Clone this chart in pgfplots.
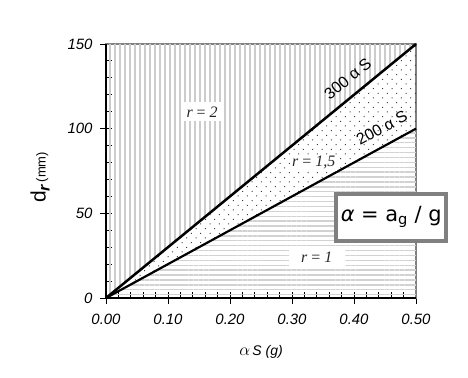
\documentclass[border=0pt]{standalone}
\usepackage{pgfplots}
\pgfplotsset{compat=1.18}
\usepackage{fontspec}
\setmainfont{Liberation Sans}
\newfontfamily\serifit{Liberation Serif}
\newfontfamily\verd{DejaVu Sans}
\usetikzlibrary{patterns.meta}
\begin{document}
\begin{tikzpicture}
\begin{axis}[
  scale only axis, width=310bp, height=254bp,
  xmin=0, xmax=0.5, ymin=0, ymax=150,
  xtick={0,0.1,0.2,0.3,0.4,0.5}, ytick={0,50,100,150},
  minor x tick num=4, minor y tick num=4,
  xtick pos=bottom, ytick pos=left,
  tick align=inside, major tick length=12bp, minor tick length=6bp,
  every major x tick/.append style={yshift=-6bp},
  every major y tick/.append style={xshift=-6bp},
  every tick/.style={black, line width=0.9bp},
  axis line style={gray, line width=1.2bp},
  clip=false,
  ticklabel style={font=\itshape\fontsize{15}{15}\selectfont},
  xticklabel style={yshift=-13bp, /pgf/number format/.cd, fixed, fixed zerofill, precision=2, assume math mode=true},
  yticklabel style={xshift=-10bp, /pgf/number format/assume math mode=true},
  xlabel={{\serifit\fontsize{16}{16}\selectfont$\alpha$}\,{\itshape S (g)}},
  xlabel style={at={(axis description cs:0.5,-0.213)}, anchor=center, font=\fontsize{14}{14}\selectfont},
  ylabel={{\fontsize{21}{21}\selectfont d}{\fontsize{16}{16}\selectfont\bfseries\itshape\raisebox{-4bp}{r}}\ {\fontsize{13}{13}\selectfont(mm)}},
  ylabel style={at={(axis description cs:-0.213,0.475)}, anchor=center},
]
% regions
\addplot[draw=none, pattern={Lines[angle=90,distance=5bp,line width=1.3bp]}, pattern color=gray!40]
  coordinates {(0,0) (0.5,150) (0,150)} -- cycle;
\addplot[draw=none, pattern={Dots[radius=0.7bp,distance=6.6bp,angle=45]}, pattern color=black!75]
  coordinates {(0,0) (0.5,150) (0.5,100)} -- cycle;
\addplot[draw=none, pattern={Lines[angle=0,distance=4.9bp,line width=1.4bp]}, pattern color=gray!35]
  coordinates {(0,0) (0.5,100) (0.5,0)} -- cycle;
% boundary lines
\addplot[black, line width=2.5bp] coordinates {(0,0) (0.5,150)};
\addplot[black, line width=2.2bp] coordinates {(0,0) (0.5,100)};
% frame left/bottom black
\draw[black, line width=1.2bp] (rel axis cs:0,1) -- (rel axis cs:0,0) -- (rel axis cs:1,0);
% labels
\node[rotate=39.3, font=\fontsize{16}{16}\selectfont, inner sep=0.5bp] at (axis cs:0.390,129.5) {300 α S};
\node[rotate=28.6, font=\fontsize{16}{16}\selectfont, inner sep=0.5bp] at (axis cs:0.445,100.5) {200 α S};
\node[fill=white, inner sep=4bp, text=gray!30!black, font=\serifit\fontsize{16}{16}\selectfont] at (axis cs:0.155,110) {\itshape r \upshape= \itshape 2};
\node[fill=white, inner sep=1.5bp, text=gray!30!black, font=\serifit\fontsize{16}{16}\selectfont] at (axis cs:0.335,80) {\itshape r \upshape= \itshape 1,5};
\node[fill=white, inner sep=4bp, minimum width=56bp, text=gray!30!black, font=\serifit\fontsize{16}{16}\selectfont] at (axis cs:0.34,24) {\itshape r \upshape= \itshape 1};
\node[draw=gray, line width=4bp, fill=white, minimum width=110bp, minimum height=47bp, inner sep=2bp, font=\verd\fontsize{21}{21}\selectfont] at (axis cs:0.46,47.8) {{\itshape α} = a\textsubscript{g} / g};
\end{axis}
\pgfresetboundingbox
\path[use as bounding box] (-106bp,-80bp) rectangle (362bp,298bp);
\end{tikzpicture}
\end{document}
